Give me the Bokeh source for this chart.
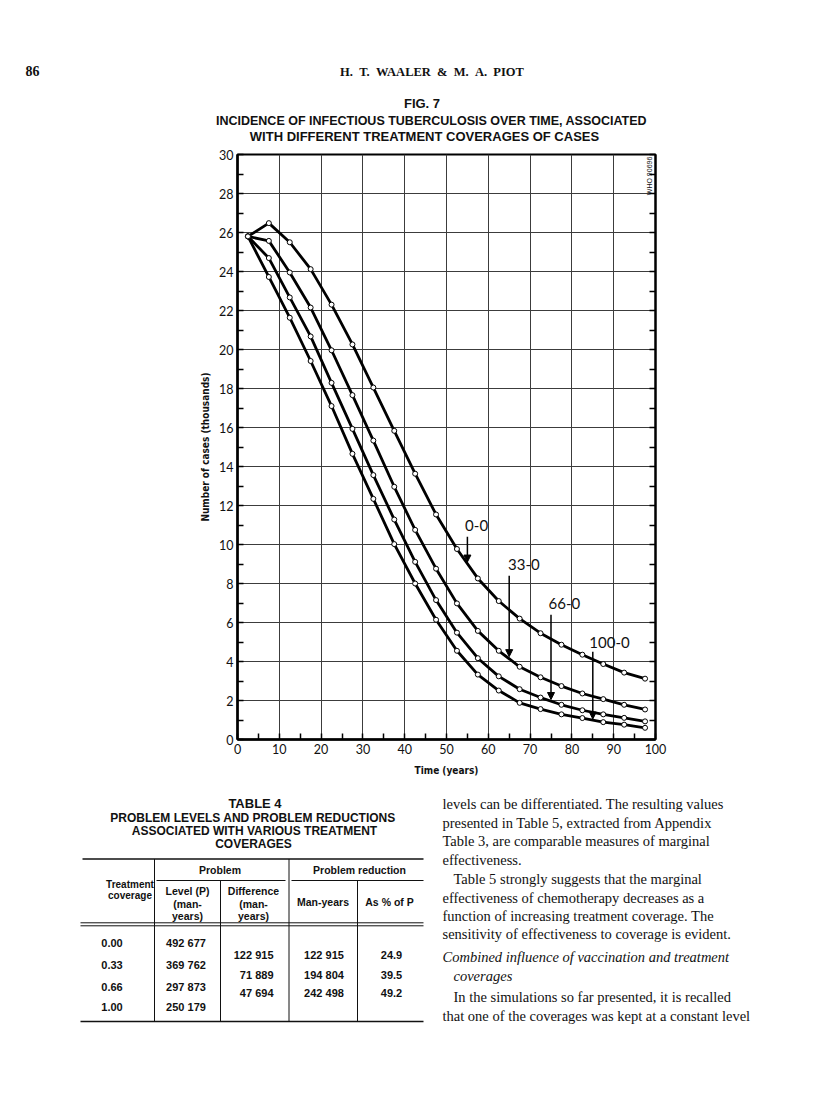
from math import pi
from bokeh.plotting import figure
from bokeh.models import (Range1d, LinearAxis, SingleIntervalTicker, Arrow, NormalHead,
                          ColumnDataSource)
from bokeh.layouts import column
from bokeh.embed import file_html
from bokeh.resources import INLINE
from bokeh.core.properties import value

# ---------------- chart data ----------------
years = [2.5, 7.5, 12.5, 17.5, 22.5, 27.5, 32.5, 37.5, 42.5, 47.5,
         52.5, 57.5, 62.5, 67.5, 72.5, 77.5, 82.5, 87.5, 92.5, 97.5]
cases_0_0 = [25.8, 26.48, 25.5, 24.12, 22.3, 20.26, 18.05, 15.83, 13.63, 11.54,
             9.77, 8.26, 7.10, 6.2, 5.45, 4.86, 4.35, 3.87, 3.43, 3.12]
cases_33_0 = [25.8, 25.57, 23.95, 22.15, 19.96, 17.66, 15.33, 12.96, 10.75, 8.76,
              6.98, 5.57, 4.55, 3.73, 3.19, 2.74, 2.36, 2.07, 1.78, 1.54]
cases_66_0 = [25.8, 24.69, 22.67, 20.67, 18.29, 15.93, 13.56, 11.28, 9.11, 7.15,
              5.48, 4.17, 3.24, 2.58, 2.15, 1.78, 1.50, 1.29, 1.11, 0.93]
cases_100_0 = [25.8, 23.72, 21.63, 19.41, 17.1, 14.65, 12.34, 10.02, 8.0, 6.14,
               4.55, 3.33, 2.51, 1.88, 1.56, 1.29, 1.10, 0.89, 0.76, 0.60]

series_labels = ["0-0", "33-0", "66-0", "100-0"]
label_x = [57.2, 68.5, 78.2, 89.0]
label_y = [11.0, 9.0, 6.95, 4.95]
arrow_x = [55, 65, 75, 85]
arrow_from = [10.4, 8.4, 6.4, 4.5]
arrow_to = [9.1, 4.25, 2.05, 1.05]

# ---------------- table data ----------------
coverage = ["0.00", "0.33", "0.66", "1.00"]
level_p = ["492 677", "369 762", "297 873", "250 179"]
difference = ["122 915", "71 889", "47 694"]
man_years = ["122 915", "194 804", "242 498"]
pct_of_p = ["24.9", "39.5", "49.2"]

W = 812
INK = "#111111"
FL, FR, FT, FB = 237, 655, 154, 739   # plot frame on the page (px)
TOP0, H0 = 0, 148
TOP1, H1 = 148, 642
TOP2, H2 = 790, 300
NB = "\u00a0"


def canvas(top, h):
    f = figure(width=W, height=h, x_range=Range1d(0, W), y_range=Range1d(top + h, top),
               output_backend="svg", toolbar_location=None, x_axis_type=None,
               y_axis_type=None, min_border=0, outline_line_color=None)
    return f


def put(f, x, y, txt, size, font="Liberation Sans", style="normal", align="center"):
    f.text(x=[x], y=[y], text=[txt], text_font=value(font),
           text_font_size=f"{size}px", text_font_style=style, text_align=align,
           text_baseline="middle", text_color=INK)


# ---------------- header ----------------
f0 = canvas(TOP0, H0)
put(f0, 32, 70, "86", 14, "Liberation Serif", "bold")
put(f0, 431.5, 71, (" " + NB).join(["H.", "T.", "WAALER", "&", "M.", "A.", "PIOT"]),
    12.5, "Liberation Serif", "bold")
put(f0, 421.5, 102.5, "FIG. 7", 13, "Liberation Sans", "bold")
put(f0, 431, 120, "INCIDENCE OF INFECTIOUS TUBERCULOSIS OVER TIME, ASSOCIATED", 12.5, "Liberation Sans", "bold")
put(f0, 424, 135.5, "WITH DIFFERENT TREATMENT COVERAGES OF CASES", 13, "Liberation Sans", "bold")

# ---------------- chart ----------------
p = figure(width=W, height=H1, x_range=Range1d(0, 100), y_range=Range1d(0, 30),
           output_backend="svg", toolbar_location=None,
           min_border_left=FL, min_border_right=W - FR, min_border_top=FT - TOP1,
           min_border_bottom=TOP1 + H1 - FB,
           outline_line_color="black", outline_line_width=2)

p.xaxis.ticker = SingleIntervalTicker(interval=10, num_minor_ticks=2)
p.yaxis.ticker = SingleIntervalTicker(interval=2, num_minor_ticks=2)
for ax in (p.xaxis, p.yaxis):
    ax.axis_line_width = 2.5
    ax.axis_line_color = "black"
    ax.major_tick_in = 0
    ax.major_tick_out = 0
    ax.minor_tick_in = 6
    ax.minor_tick_out = 0
    ax.minor_tick_line_width = 1.5
    ax.minor_tick_line_color = "black"
    ax.major_label_text_font = "Lato"
    ax.major_label_text_font_size = "12.5px"
    ax.major_label_text_color = INK
    ax.major_label_standoff = 4
    ax.axis_label_text_font = "DejaVu Sans Condensed"
    ax.axis_label_text_font_size = "10px"
    ax.axis_label_text_font_style = "bold"
    ax.axis_label_text_color = INK
p.xaxis.axis_label = "Time (years)"
p.yaxis.axis_label = "Number of cases (thousands)"
p.xaxis.axis_label_standoff = 8
p.yaxis.axis_label_standoff = 5

ra = LinearAxis(ticker=SingleIntervalTicker(interval=2, num_minor_ticks=2),
                major_label_text_color=None, major_tick_in=0, major_tick_out=0,
                minor_tick_in=6, minor_tick_out=0, minor_tick_line_width=1.5,
                axis_line_width=2)
p.add_layout(ra, "right")

p.xgrid.grid_line_color = "#3c3c3c"
p.ygrid.grid_line_color = "#3c3c3c"
p.xgrid.grid_line_width = 1
p.ygrid.grid_line_width = 1

for ys in (cases_0_0, cases_33_0, cases_66_0, cases_100_0):
    p.line(years, ys, line_color="black", line_width=2.8)
    p.scatter(years, ys, marker="circle", size=5, fill_color="white",
              line_color="black", line_width=1)

p.text(x=label_x, y=label_y, text=series_labels, text_font=value("Lato"),
       text_font_size="15px", text_align="center", text_baseline="middle",
       text_color=INK)

arrows = ColumnDataSource(dict(x0=arrow_x, y0=arrow_from, x1=arrow_x, y1=arrow_to))
p.add_layout(Arrow(end=NormalHead(size=7, fill_color="black", line_color="black"),
                   x_start="x0", y_start="y0", x_end="x1", y_end="y1",
                   line_width=1.5, line_color="black", source=arrows))

p.text(x=[98.6], y=[28.9], text=["WHO 90696"], angle=pi / 2,
       text_font=value("Liberation Sans"), text_font_size="7px",
       text_align="center", text_baseline="middle", text_color=INK)

# ---------------- table ----------------
f2 = canvas(TOP2, H2)
B = "bold"
put(f2, 254.5, 803, "TABLE 4", 13, style=B)
put(f2, 252.5, 817.5, "PROBLEM LEVELS AND PROBLEM REDUCTIONS", 12, style=B)
put(f2, 254, 830, "ASSOCIATED WITH VARIOUS TREATMENT", 12, style=B)
put(f2, 253, 843.5, "COVERAGES", 12, style=B)

hs = 10.5
put(f2, 219.5, 869, "Problem", hs, style=B)
put(f2, 359, 869, "Problem reduction", hs, style=B)
put(f2, 129.5, 883.5, "Treatment", 10, style=B)
put(f2, 129.5, 894.5, "coverage", 10, style=B)
for cx, t1 in ((187, "Level (P)"), (253, "Difference")):
    put(f2, cx, 890.5, t1, hs, style=B)
    put(f2, cx, 903, "(man-", hs, style=B)
    put(f2, cx, 915, "years)", hs, style=B)
put(f2, 322.5, 901.5, "Man-years", hs, style=B)
put(f2, 389, 901.5, "As % of P", hs, style=B)

row_y = [942.5, 964, 986, 1006.5]
mid_y = [954, 974, 992]
for i in range(4):
    put(f2, 111.5, row_y[i], coverage[i], 11, style=B)
    put(f2, 185.5, row_y[i], level_p[i], 11, style=B)
for i in range(3):
    put(f2, 273, mid_y[i], difference[i], 11, style=B, align="right")
    put(f2, 323.5, mid_y[i], man_years[i], 11, style=B)
    put(f2, 391, mid_y[i], pct_of_p[i], 11, style=B)

hx0 = [82, 156, 291, 80, 80, 80]
hx1 = [423, 285, 423, 423, 423, 423]
hy = [858.5, 880, 880, 922.3, 925.3, 1021]
hw = [1.6, 1.2, 1.2, 1.0, 1.0, 1.6]
f2.segment(x0=hx0, y0=hy, x1=hx1, y1=hy, line_color=INK, line_width=hw)
vx = [154, 288.5, 220, 357]
vy0 = [858.5, 858.5, 880, 880]
vy1 = [1021, 1021, 1021, 1021]
f2.segment(x0=vx, y0=vy0, x1=vx, y1=vy1, line_color=INK, line_width=1)

body = [
    ("levels can be  differentiated. The resulting values", 442, 803, "normal"),
    ("presented in Table 5, extracted from Appendix", 442, 822, "normal"),
    ("Table 3, are comparable measures of marginal", 442, 840.5, "normal"),
    ("effectiveness.", 442, 859, "normal"),
    ("Table 5 strongly suggests that the marginal", 453, 878, "normal"),
    ("effectiveness of chemotherapy decreases as a", 442, 897, "normal"),
    ("function of increasing treatment coverage. The", 442, 915, "normal"),
    ("sensitivity of effectiveness to coverage is evident.", 442, 933.5, "normal"),
    ("Combined influence of vaccination and treatment", 442, 956.5, "italic"),
    ("coverages", 453, 975, "italic"),
    ("In the simulations so far presented, it is recalled", 453, 996.5, "normal"),
    ("that one of the coverages was kept at a constant level", 442, 1015.5, "normal"),
]
for txt, x, y, st in body:
    put(f2, x, y, txt, 14.5, "Liberation Serif", st, align="left")

for f in (f0, p, f2):
    try:
        f.frame_align = False
    except Exception:
        pass

page = column(f0, p, f2, spacing=0)
open("out.html", "w").write(file_html(page, INLINE))
